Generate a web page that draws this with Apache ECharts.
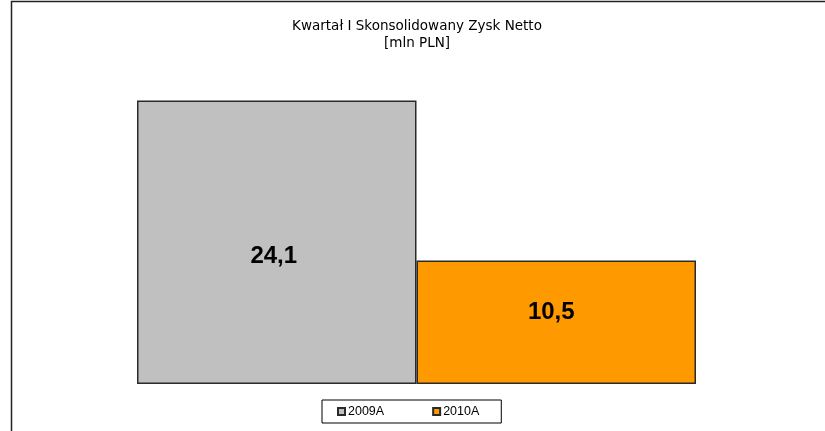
<!DOCTYPE html>
<html>
<head>
<meta charset="utf-8">
<script src="https://cdn.jsdelivr.net/npm/echarts@6/dist/echarts.min.js"></script>
<style>html,body{margin:0;padding:0;background:#fff;}#c{width:825px;height:431px;}</style>
</head>
<body>
<div id="c"></div>
<script>
var titleLines = ['Kwartał I Skonsolidowany Zysk Netto', '[mln PLN]'];
var categories = ['Q1'];
var seriesNames = ['2009A', '2010A'];
var values2009 = [24.1];
var values2010 = [10.5];
var colors = ['#C0C0C0', '#FF9900'];

var chart = echarts.init(document.getElementById('c'), null, {renderer: 'canvas'});
function fmt(p) { return String(p.value).replace('.', ','); }
chart.setOption({
  animation: false,
  backgroundColor: '#fff',
  title: {
    text: titleLines.join('\n'),
    left: 412, textAlign: 'center', top: 13,
    padding: 5,
    textStyle: {fontFamily: 'DejaVu Sans', fontSize: 13.5, fontWeight: 'normal', color: '#000', lineHeight: 17}
  },
  legend: {
    data: seriesNames,
    left: 322, top: 400,
    width: 180, height: 14,
    padding: [5, 22, 5, 15],
    borderColor: '#000', borderWidth: 1,
    itemWidth: 7, itemHeight: 7, itemGap: 48,
    icon: 'rect',
    textStyle: {fontFamily: 'Liberation Sans, Arial', fontSize: 12.5, color: '#000', padding: [0, 0, 0, -2]}
  },
  grid: {left: 137, right: 129, top: 31, bottom: 47},
  xAxis: {type: 'category', data: categories, show: false},
  yAxis: {type: 'value', min: 0, max: 30, show: false},
  series: [
    {
      name: seriesNames[0], type: 'bar', data: values2009,
      barGap: '0%', barCategoryGap: '0%',
      itemStyle: {color: colors[0], borderColor: '#2a2a2a', borderWidth: 1.5},
      label: {show: true, position: 'inside', offset: [-3, 14], formatter: fmt,
        fontFamily: 'Liberation Sans, Arial', fontSize: 24, fontWeight: 'bold', color: '#000'}
    },
    {
      name: seriesNames[1], type: 'bar', data: values2010,
      itemStyle: {color: colors[1], borderColor: '#2a2a2a', borderWidth: 1.5},
      label: {show: true, position: 'inside', offset: [-5, -10], formatter: fmt,
        fontFamily: 'Liberation Sans, Arial', fontSize: 24, fontWeight: 'bold', color: '#000'}
    }
  ],
  graphic: [
    {type: 'polyline', shape: {points: [[11.5, 431], [11.5, 1.5], [825, 1.5]]}, style: {stroke: '#222', lineWidth: 1.5, fill: null}, silent: true}
  ]
});
</script>
</body>
</html>
